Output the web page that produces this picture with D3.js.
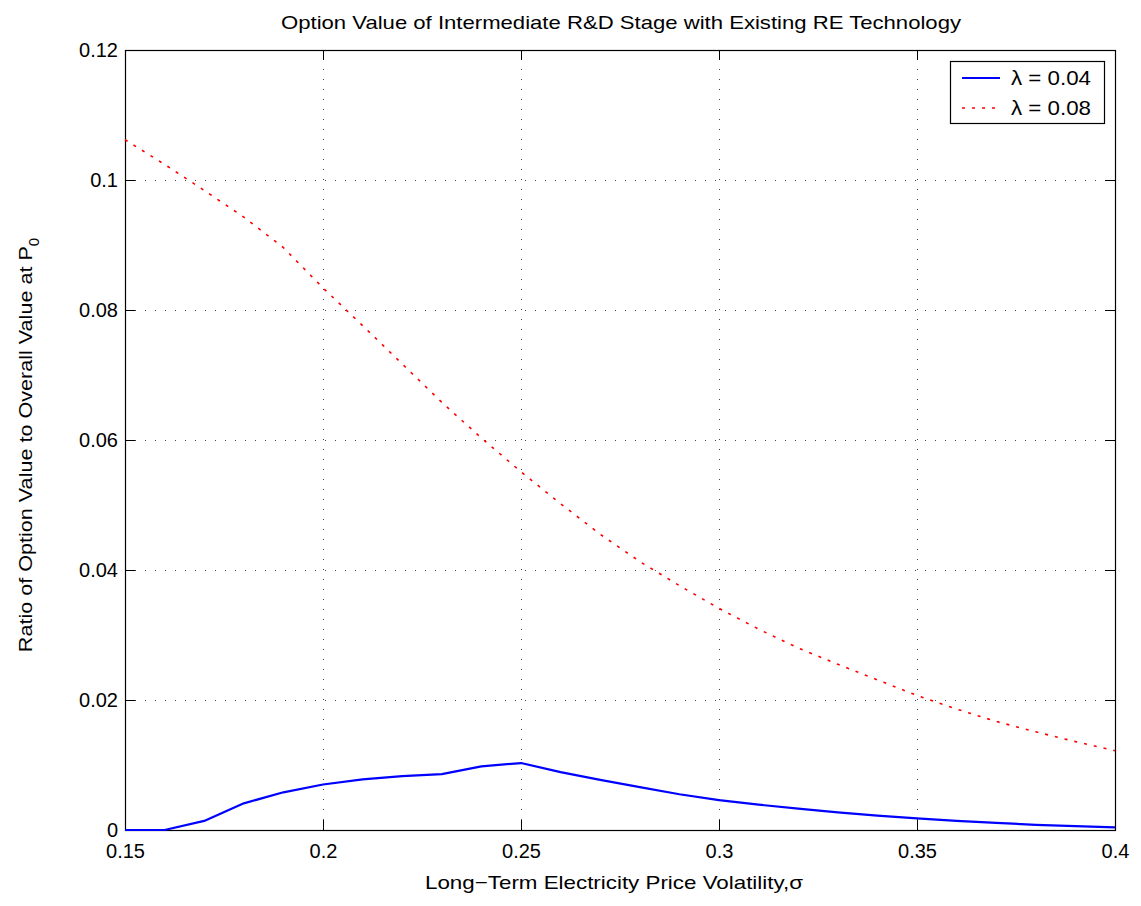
<!DOCTYPE html>
<html>
<head>
<meta charset="utf-8">
<script src="https://cdn.jsdelivr.net/npm/d3@7"></script>
<style>
  html, body { margin: 0; padding: 0; background: #fff; }
  svg { display: block; font-family: "Liberation Sans", Arial, Helvetica, sans-serif; }
</style>
</head>
<body>
<svg id="chart" width="1141" height="906"></svg>
<script>
// Volatility grid (sigma) shared by both series
const sigma = [0.15, 0.16, 0.17, 0.18, 0.19, 0.20, 0.21, 0.22, 0.23, 0.24, 0.25,
               0.26, 0.27, 0.28, 0.29, 0.30, 0.31, 0.32, 0.33, 0.34, 0.35,
               0.36, 0.37, 0.38, 0.39, 0.40];

// Ratio of option value to overall value, lambda = 0.04
const ratioLambda004 = [0, 0, 0.0014, 0.0041, 0.0058, 0.0070, 0.0078, 0.0083, 0.0086, 0.0098, 0.0103,
                        0.0089, 0.0077, 0.0066, 0.0055, 0.0046, 0.0039, 0.0033, 0.0027, 0.0022, 0.0018,
                        0.0014, 0.0011, 0.0008, 0.0006, 0.0004];

// Ratio of option value to overall value, lambda = 0.08
const ratioLambda008 = [0.1062, 0.1024, 0.0984, 0.0943, 0.0896, 0.0834, 0.0776, 0.0717, 0.0658, 0.0603, 0.0551,
                        0.0502, 0.0455, 0.0413, 0.0376, 0.0341, 0.0309, 0.0280, 0.0255, 0.0231, 0.0207,
                        0.0186, 0.0167, 0.0151, 0.0136, 0.0122];

const xTicks = [0.15, 0.2, 0.25, 0.3, 0.35, 0.4];
const yTicks = [0, 0.02, 0.04, 0.06, 0.08, 0.1, 0.12];

const seriesNames = ["\u03bb = 0.04", "\u03bb = 0.08"];

const svg = d3.select("#chart");
const m = { left: 125, right: 1115, top: 50, bottom: 830 };

const x = d3.scaleLinear().domain([0.15, 0.4]).range([m.left, m.right]);
const y = d3.scaleLinear().domain([0, 0.12]).range([m.bottom, m.top]);

const fmt = d => (d === 0 ? "0" : String(+d.toFixed(2)));

// Dotted grid
const grid = svg.append("g").attr("stroke", "#444").attr("stroke-width", 1)
  .attr("stroke-dasharray", "1,9").attr("shape-rendering", "crispEdges");
grid.selectAll("line.gx").data(xTicks.slice(1, -1)).join("line")
  .attr("x1", d => Math.round(x(d)) + 0.5).attr("x2", d => Math.round(x(d)) + 0.5)
  .attr("y1", m.bottom).attr("y2", m.top);
grid.selectAll("line.gy").data(yTicks.slice(1, -1)).join("line")
  .attr("y1", d => Math.round(y(d)) + 0.5).attr("y2", d => Math.round(y(d)) + 0.5)
  .attr("x1", m.left).attr("x2", m.right);

// Axes with inward ticks
const tickLen = 10;
const xAxisB = d3.axisBottom(x).tickValues(xTicks).tickSizeInner(-tickLen).tickSizeOuter(0).tickPadding(14).tickFormat(fmt);
const xAxisT = d3.axisTop(x).tickValues(xTicks).tickSizeInner(-tickLen).tickSizeOuter(0).tickFormat("");
const yAxisL = d3.axisLeft(y).tickValues(yTicks).tickSizeInner(-tickLen).tickSizeOuter(0).tickPadding(7).tickFormat(fmt);
const yAxisR = d3.axisRight(y).tickValues(yTicks).tickSizeInner(-tickLen).tickSizeOuter(0).tickFormat("");

function styleAxis(g) {
  g.select(".domain").remove();
  g.selectAll(".tick line").attr("stroke", "#000").attr("stroke-width", 1);
  g.selectAll(".tick text").attr("fill", "#000").attr("font-size", 20)
    .attr("font-family", "Liberation Sans, Arial, sans-serif");
}
svg.append("g").attr("transform", `translate(0,${m.bottom})`).call(xAxisB).call(styleAxis);
svg.append("g").attr("transform", `translate(0,${m.top})`).call(xAxisT).call(styleAxis);
svg.append("g").attr("transform", `translate(${m.left},0)`).call(yAxisL).call(styleAxis);
svg.append("g").attr("transform", `translate(${m.right},0)`).call(yAxisR).call(styleAxis);

// Axes box
svg.append("rect").attr("x", m.left + 0.5).attr("y", m.top + 0.5)
  .attr("width", m.right - m.left).attr("height", m.bottom - m.top)
  .attr("fill", "none").attr("stroke", "#000").attr("stroke-width", 1.2);

// Series
const line = d3.line().x((d, i) => x(sigma[i])).y(d => y(d));

svg.append("path").datum(ratioLambda008).attr("d", line)
  .attr("fill", "none").attr("stroke", "#ff0000").attr("stroke-width", 1.6)
  .attr("stroke-dasharray", "3,7");

svg.append("path").datum(ratioLambda004).attr("d", line)
  .attr("fill", "none").attr("stroke", "#0000ff").attr("stroke-width", 2.2)
  .attr("stroke-linejoin", "round");

// Title and axis labels
svg.append("text").attr("x", 621).attr("y", 29).attr("text-anchor", "middle")
  .attr("font-size", 19).attr("textLength", 680).attr("lengthAdjust", "spacingAndGlyphs")
  .text("Option Value of Intermediate R&D Stage with Existing RE Technology");

svg.append("text").attr("x", 614).attr("y", 889).attr("text-anchor", "middle")
  .attr("font-size", 19).attr("textLength", 378).attr("lengthAdjust", "spacingAndGlyphs")
  .text("Long\u2212Term Electricity Price Volatility,\u03c3");

const yl = svg.append("text").attr("transform", "translate(32,445) rotate(-90)")
  .attr("text-anchor", "middle").attr("font-size", 19);
yl.append("tspan").attr("textLength", 406).attr("lengthAdjust", "spacingAndGlyphs")
  .text("Ratio of Option Value to Overall Value at P");
yl.append("tspan").attr("dy", 7).attr("font-size", 15).text("0");

// Legend
const lg = svg.append("g");
lg.append("rect").attr("x", 950.5).attr("y", 61.5).attr("width", 154).attr("height", 62)
  .attr("fill", "#fff").attr("stroke", "#000").attr("stroke-width", 1.2);
const legendStyles = [
  { stroke: "#0000ff", width: 2.2, dash: null },
  { stroke: "#ff0000", width: 1.6, dash: "3,7" }
];
seriesNames.forEach((name, i) => {
  const yy = 78 + i * 30;
  lg.append("line").attr("x1", 962).attr("x2", 1000).attr("y1", yy).attr("y2", yy)
    .attr("stroke", legendStyles[i].stroke).attr("stroke-width", legendStyles[i].width)
    .attr("stroke-dasharray", legendStyles[i].dash);
  lg.append("text").attr("x", 1011).attr("y", yy + 7).attr("font-size", 21)
    .attr("textLength", 80).attr("lengthAdjust", "spacingAndGlyphs").text(name);
});
</script>
</body>
</html>
